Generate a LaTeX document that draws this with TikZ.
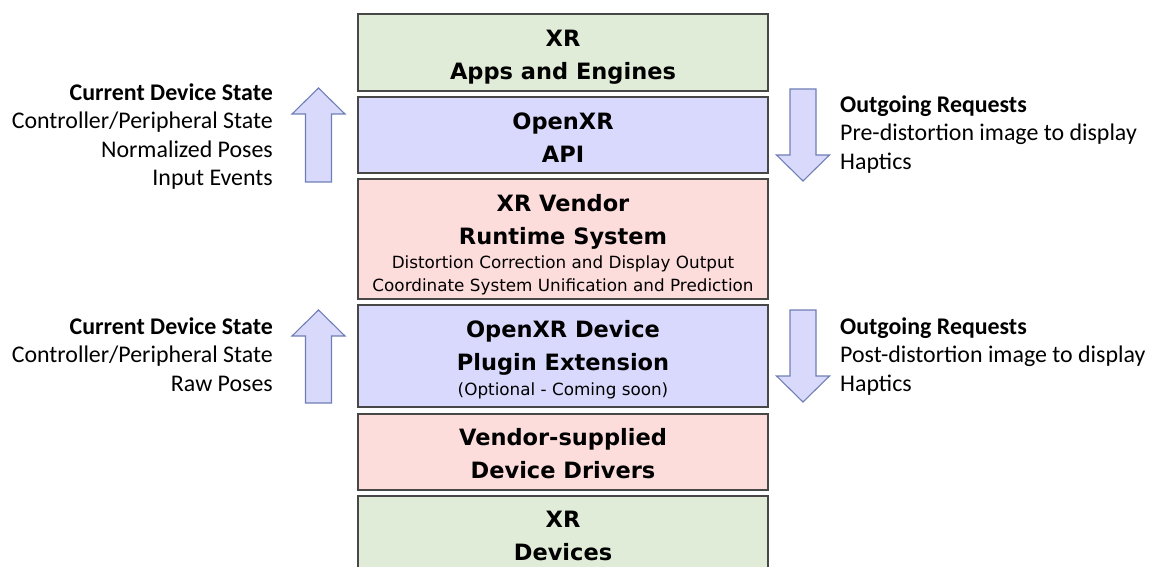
\documentclass[tikz,border=0pt]{standalone}
\usepackage{fontspec}
\setmainfont{Carlito}
\newfontfamily\layerfont{DejaVu Sans}
\usetikzlibrary{positioning}

\definecolor{appgreen}{HTML}{E0ECD7}
\definecolor{apiblue}{HTML}{D9D9FD}
\definecolor{vendorpink}{HTML}{FDDCDC}
\definecolor{arrowfill}{HTML}{D9D9FC}
\definecolor{arrowline}{HTML}{6F7FB5}

\tikzset{
  layer/.style={draw=black!72, line width=1.8pt, minimum width=410pt, inner sep=0pt},
  layertext/.style={inner sep=0pt, align=center, font=\layerfont\bfseries\fontsize{22.5}{33}\selectfont},
  bigarrow/.style={draw=arrowline, fill=arrowfill, line width=1.1pt, line join=miter},
  sidetext/.style={inner sep=0pt, font=\fontsize{23.9}{28.5}\selectfont}
}
\newcommand{\subline}[1]{{\mdseries\fontsize{16.8}{20}\selectfont #1}}

\begin{document}
\begin{tikzpicture}[x=1pt,y=-1pt]
    \clip (0,0) rectangle (1149,567);
    % Layer stack
    \node[layer, fill=appgreen, minimum height=77pt] (apps) at (563,52.5) {};
    \node[layer, fill=apiblue, minimum height=76pt] (api) at (563,135) {};
    \node[layer, fill=vendorpink, minimum height=120pt] (runtime) at (563,239) {};
    \node[layer, fill=apiblue, minimum height=102pt] (plugin) at (563,356) {};
    \node[layer, fill=vendorpink, minimum height=76pt] (drivers) at (563,452) {};
    \node[layer, fill=appgreen, minimum height=78pt] (devices) at (563,535) {};
    % Layer names
    \node[layertext] (appsName) at ([yshift=-5pt]apps.center) {XR\\Apps and Engines};
    \node[layertext] (apiName) at ([yshift=-3pt]api.center) {OpenXR\\API};
    \node[layertext] (runtimeName) at ([yshift=-5.5pt]runtime.center)
        {XR Vendor\\Runtime System\\[-9pt]\subline{Distortion Correction and Display Output}\\[-10pt]\subline{Coordinate System Unification and Prediction}};
    \node[layertext] (pluginName) at ([yshift=-3.5pt]plugin.center)
        {OpenXR Device\\Plugin Extension\\[-8pt]\subline{(Optional - Coming soon)}};
    \node[layertext] (driversName) at ([yshift=-2pt]drivers.center) {Vendor-supplied\\Device Drivers};
    \node[layertext] (devicesName) at ([yshift=-1pt]devices.center) {XR\\Devices};
    % Upward state arrows
    \draw[bigarrow] (318.5,88) -- (345,114) -- (331.5,114) -- (331.5,182) -- (305.5,182) -- (305.5,114) -- (292,114) -- cycle;
    \draw[bigarrow] (318.5,310) -- (345,336) -- (331.5,336) -- (331.5,403) -- (305.5,403) -- (305.5,336) -- (292,336) -- cycle;
    % Downward request arrows
    \draw[bigarrow] (803,181) -- (829.5,155) -- (816,155) -- (816,89) -- (790,89) -- (790,155) -- (776.5,155) -- cycle;
    \draw[bigarrow] (803,402) -- (829.5,376) -- (816,376) -- (816,310) -- (790,310) -- (790,376) -- (776.5,376) -- cycle;
    % Side labels
    \node[sidetext, anchor=east, align=right] (stateA) at (273,136.5)
        {\textbf{Current Device State}\\Controller/Peripheral State\\Normalized Poses\\Input Events};
    \node[sidetext, anchor=east, align=right] (stateB) at (273,354.5)
        {\textbf{Current Device State}\\Controller/Peripheral State\\Raw Poses};
    \node[sidetext, anchor=west, align=left] (requestA) at (840,134.5)
        {\textbf{Outgoing Requests}\\Pre-distortion image to display\\Haptics};
    \node[sidetext, anchor=west, align=left] (requestB) at (840,356.5)
        {\textbf{Outgoing Requests}\\Post-distortion image to display\\Haptics};
\end{tikzpicture}
\end{document}
